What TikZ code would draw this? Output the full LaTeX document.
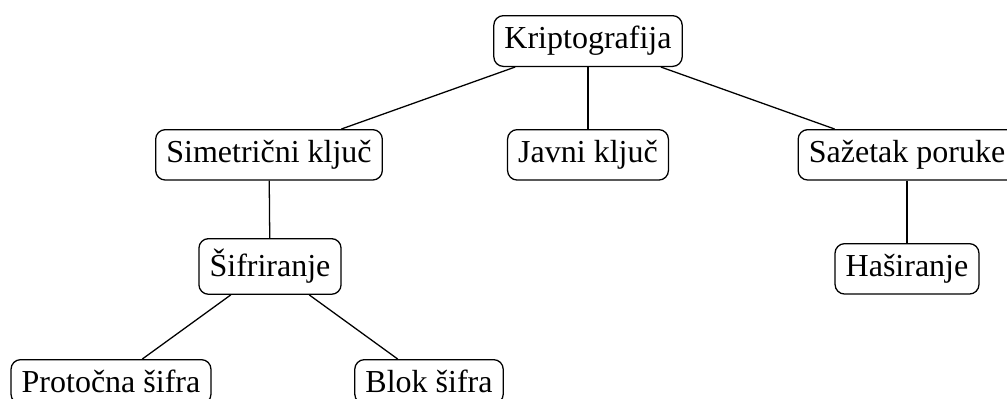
\documentclass[tikz,border=0pt]{standalone}
\usepackage{fontspec}
\setmainfont{Liberation Serif}
\begin{document}
\begin{tikzpicture}[x=0.3125pt,y=-0.3125pt,
  tbox/.style={draw,rounded corners=3pt,inner sep=3.333pt,anchor=north,font=\fontsize{10pt}{12pt}\selectfont},
  conn/.style={line width=0.4pt}]
\useasboundingbox (0,0) rectangle (1007,398);
\clip (0,0) rectangle (1007,398);
\node[tbox] (K) at (588,15) {Kriptografija};
\node[tbox] (S) at (269,129) {Simetrični ključ};
\node[tbox] (J) at (588,129) {Javni ključ};
\node[tbox] (Z) at (907,129) {Sažetak poruke};
\node[tbox] (Si) at (270,238) {Šifriranje};
\node[tbox] (H) at (907,243) {Haširanje};
\node[tbox] (P) at (111,359) {Protočna šifra};
\node[tbox] (B) at (429,359) {Blok šifra};
\draw[conn] (K) -- (S);
\draw[conn] (K) -- (J);
\draw[conn] (K) -- (Z);
\draw[conn] (S) -- (Si);
\draw[conn] (Z) -- (H);
\draw[conn] (Si) -- (P);
\draw[conn] (Si) -- (B);
\end{tikzpicture}
\end{document}
